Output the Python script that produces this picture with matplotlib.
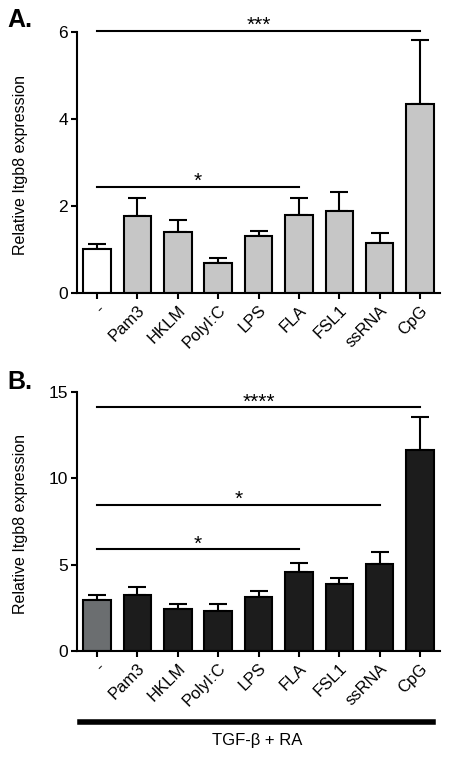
import matplotlib.pyplot as plt
import matplotlib.transforms as mtransforms
import numpy as np

plt.rcParams['font.family'] = ['Liberation Sans', 'DejaVu Sans']

labels = ["-", "Pam3", "HKLM", "PolyI:C", "LPS", "FLA", "FSL1", "ssRNA", "CpG"]

a_mean = [1.02, 1.76, 1.41, 0.70, 1.30, 1.79, 1.88, 1.16, 4.35]
a_err = [0.11, 0.42, 0.26, 0.10, 0.13, 0.40, 0.44, 0.23, 1.47]

b_mean = [2.95, 3.24, 2.43, 2.33, 3.14, 4.55, 3.88, 5.05, 11.63]
b_err = [0.29, 0.46, 0.29, 0.41, 0.33, 0.54, 0.36, 0.66, 1.92]

# (start bar, end bar, height, stars)
a_sig = [(0, 8, 6.02, "***"), (0, 5, 2.43, "*")]
b_sig = [(0, 8, 14.09, "****"), (0, 7, 8.46, "*"), (0, 5, 5.88, "*")]

a_colors = ["white"] + ["#c6c6c6"] * 8
b_colors = ["#6b6e70"] + ["#1c1c1c"] * 8

fig = plt.figure(figsize=(4.5, 7.6), dpi=100)
axA = fig.add_axes([0.171, 0.6145, 0.807, 0.3435])
axB = fig.add_axes([0.171, 0.1434, 0.807, 0.3412])


def draw(ax, mean, err, colors, sig, ymax, yticks):
    x = np.arange(len(labels))
    ax.bar(x, mean, width=0.68, color=colors, edgecolor="black", linewidth=1.5, zorder=2)
    ax.errorbar(x, mean, yerr=[np.zeros(len(err)), err], fmt="none", ecolor="black",
                elinewidth=1.5, capsize=6.5, capthick=1.5, zorder=1)
    ax.set_xlim(-0.5, 8.5)
    ax.set_ylim(0, ymax)
    ax.set_yticks(yticks)
    ax.set_xticks(x)
    ax.set_xticklabels(labels, rotation=45, ha="right", va="top", rotation_mode="anchor",
                       fontsize=12)
    shift = mtransforms.ScaledTranslation(10 / 100, -2 / 100, fig.dpi_scale_trans)
    for lab in ax.get_xticklabels():
        lab.set_transform(lab.get_transform() + shift)
    ax.tick_params(axis="y", direction="out", length=4.5, width=1.5, labelsize=12.5, pad=2)
    ax.tick_params(axis="x", direction="out", length=4, width=1.5, pad=3)
    for s in ["top", "right"]:
        ax.spines[s].set_visible(False)
    for s in ["left", "bottom"]:
        ax.spines[s].set_linewidth(1.5)
    ax.set_ylabel("Relative Itgb8 expression", fontsize=11.5)
    ax.yaxis.set_label_coords(-0.135, 0.49)
    for i0, i1, h, stars in sig:
        ax.plot([i0, i1], [h, h], color="black", lw=1.5, clip_on=False)
        ax.text((i0 + i1) / 2, h, stars, ha="center", va="baseline", fontsize=15)


draw(axA, a_mean, a_err, a_colors, a_sig, 6, [0, 2, 4, 6])
draw(axB, b_mean, b_err, b_colors, b_sig, 15, [0, 5, 10, 15])

fig.text(0.016, 0.974, "A.", fontsize=18, fontweight="bold", va="center")
fig.text(0.016, 0.497, "B.", fontsize=18, fontweight="bold", va="center")

fig.add_artist(plt.Line2D([80 / 450, 433 / 450], [1 - 721.7 / 760] * 2, color="black", lw=4))
fig.text(257 / 450, 1 - 740 / 760, "TGF-\u03b2 + RA", ha="center", va="center", fontsize=12)

fig.savefig("out.png", dpi=100)
